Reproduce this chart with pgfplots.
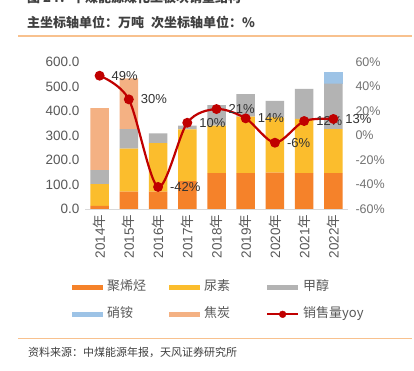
\documentclass[border=0pt]{standalone}
\usepackage{fontspec}
\setmainfont{Liberation Sans}
\newfontfamily\cjk{Noto Sans CJK SC}
\usepackage{pgfplots}
\pgfplotsset{compat=1.18}
\usepackage{pgfplotstable}

\definecolor{cPO}{HTML}{F5822A}
\definecolor{cUrea}{HTML}{FBBD2D}
\definecolor{cMeth}{HTML}{B3B3B3}
\definecolor{cNit}{HTML}{9DC3E6}
\definecolor{cCoke}{HTML}{F4B183}
\definecolor{cLine}{HTML}{C00000}
\definecolor{ticktxt}{HTML}{595959}
\definecolor{septxt}{HTML}{404040}
\definecolor{sepline}{HTML}{F8C18E}

\pgfplotstableread{
x po urea meth nit coke yoy lab
0 13 89 57 0 253 48.8 49
1 71 175 80 0 207 29.5 30
2 71 198 40 0 0 -42 -42
3 114 211 15 0 0 10.4 10
4 146 194 84 0 0 21.6 21
5 146 231 92 0 0 14 14
6 148 226 67 0 0 -5.9 -6
7 146 222 122 0 0 11.8 12
8 146 180 186 46 0 13.5 13
}\data

\pgfplotsset{
  mybar/.style={fill=#1, draw=none,
    legend image code/.code={\fill[#1] (0pt,-2.6pt) rectangle (31pt,2.6pt);}},
}

\begin{document}
\begin{tikzpicture}
\path[use as bounding box] (0pt,0pt) rectangle (414pt,371pt);
\fill[white] (0pt,0pt) rectangle (414pt,371pt);
\node[anchor=base west, inner sep=0pt, font=\cjk\bfseries\fontsize{13}{15}\selectfont, text=septxt] at (27pt,368.5pt) {图 24：中煤能源煤化工板块销量结构};
\node[anchor=base west, inner sep=0pt, font=\cjk\bfseries\fontsize{13}{15}\selectfont, text=septxt] at (27pt,343pt) {主坐标轴单位：万吨\hspace{7pt}次坐标轴单位：\%};
\draw[sepline, line width=1.4pt] (18pt,335pt) -- (412pt,335pt);
\draw[sepline, line width=1.2pt] (18pt,32.7pt) -- (412pt,32.7pt);
\node[anchor=base west, inner sep=0pt, font=\cjk\fontsize{11}{13}\selectfont, text=septxt] at (28pt,14.5pt) {资料来源：中煤能源年报，天风证券研究所};
\coordinate (O) at (85pt,162pt);

\begin{axis}[
  at={(O)}, anchor=south west,
  scale only axis, width=263pt, height=147pt,
  ybar stacked, bar width=18.5pt,
  xmin=-0.5, xmax=8.5, ymin=0, ymax=600,
  xtick={0,...,8},
  xticklabels={2014{\cjk 年},2015{\cjk 年},2016{\cjk 年},2017{\cjk 年},2018{\cjk 年},2019{\cjk 年},2020{\cjk 年},2021{\cjk 年},2022{\cjk 年}},
  ytick={0,100,...,600},
  yticklabels={0.0,100.0,200.0,300.0,400.0,500.0,600.0},
  axis x line*=bottom, axis y line*=left,
  y axis line style={draw=none},
  x axis line style={draw=black!15, line width=0.8pt},
  tick style={draw=none},
  tick label style={font=\fontsize{13.5}{16}\selectfont, text=ticktxt},
  xticklabel style={rotate=90, anchor=east, xshift=-2pt},
  yticklabel style={xshift=-2pt},
  legend columns=3,
  legend style={at={(-0.0494,-0.475)}, anchor=north west, draw=none, fill=none,
    inner sep=0pt, outer sep=0pt, column sep=0pt, row sep=10pt,
    font=\cjk\fontsize{13}{15}\selectfont, text=ticktxt,
    nodes={inner xsep=4pt, inner ysep=2pt, text width=58pt, text height=10pt, text depth=3pt, align=left}},
]
\addplot[mybar=cPO] table[x=x, y=po] {\data};
\addlegendentry{聚烯烃}
\addplot[mybar=cUrea] table[x=x, y=urea] {\data};
\addlegendentry{尿素}
\addplot[mybar=cMeth] table[x=x, y=meth] {\data};
\addlegendentry{甲醇}
\addplot[mybar=cNit] table[x=x, y=nit] {\data};
\addlegendentry{硝铵}
\addplot[mybar=cCoke] table[x=x, y=coke] {\data};
\addlegendentry{焦炭}
\addlegendimage{legend image code/.code={\draw[cLine, line width=2.2pt] (0pt,0pt)--(31pt,0pt); \fill[cLine] (15.5pt,0pt) circle (3.4pt);}}
\addlegendentry{销售量yoy}
\end{axis}

\begin{axis}[
  at={(O)}, anchor=south west,
  scale only axis, width=263pt, height=147pt,
  xmin=-0.5, xmax=8.5, ymin=-60, ymax=60,
  axis x line=none, axis y line*=right,
  y axis line style={draw=none},
  tick style={draw=none},
  ytick={-60,-40,...,60},
  yticklabels={-60\%,-40\%,-20\%,0\%,20\%,40\%,60\%},
  tick label style={font=\fontsize{12.5}{15}\selectfont, text=black!55},
  yticklabel style={xshift=4pt},
]
\addplot[cLine, line width=2.2pt, smooth, mark=*, mark size=3.8pt, mark options={fill=cLine},
  point meta=explicit symbolic,
  nodes near coords={\pgfplotspointmeta\%},
  every node near coord/.style={anchor=west, xshift=10pt, inner sep=1pt, font=\fontsize{13}{15}\selectfont, text=black!80}]
  table[x=x, y=yoy, meta=lab] {\data};
\end{axis}
\end{tikzpicture}
\end{document}
